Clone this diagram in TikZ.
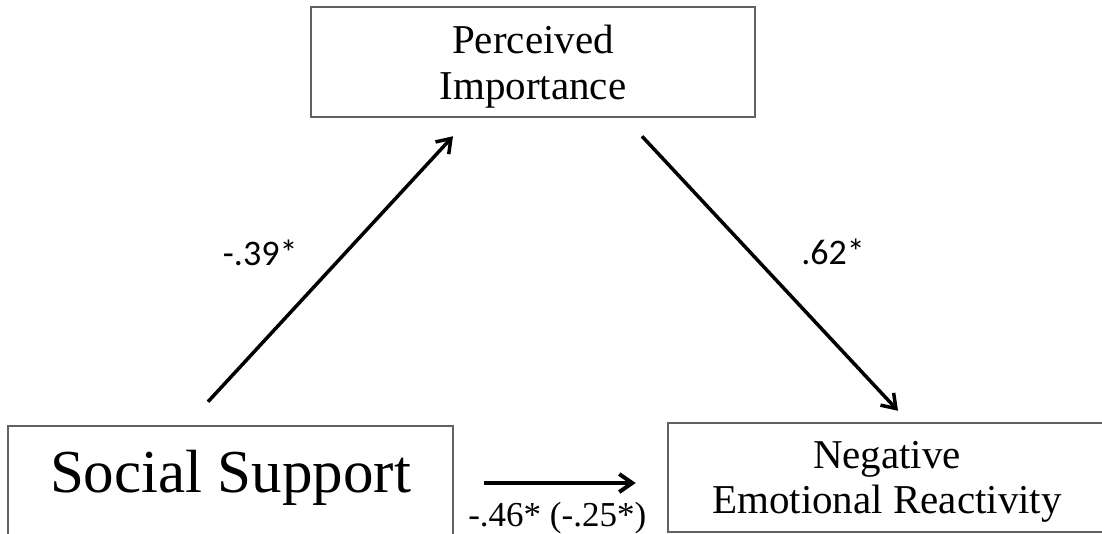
\documentclass[tikz,border=0pt]{standalone}
\usepackage{fontspec}
\setmainfont{Liberation Serif}
\newfontfamily\coefffont{Carlito}
\usetikzlibrary{arrows.meta}

\begin{document}
\begin{tikzpicture}[x=1pt,y=-1pt,
        varbox/.style={draw=black!62,line width=2.5pt,inner sep=0pt,align=center},
        patharrow/.style={line width=3.5pt,-{Straight Barb[length=13pt,width=18pt]}},
        coeff/.style={font=\coefffont\fontsize{36}{40}\selectfont,inner sep=0pt}]
        \useasboundingbox (0,0) rectangle (1102,533);
        % the three variables
        \node[varbox,minimum width=444pt,minimum height=110pt,text depth=0pt,
              font=\fontsize{41}{46}\selectfont] (pi) at (533,62) {Perceived\\Importance};
        \node[varbox,minimum width=445pt,minimum height=120pt,text height=26pt,text depth=14pt,
              font=\fontsize{61}{70}\selectfont] (ss) at (230.5,486) {Social Support};
        \node[varbox,minimum width=438pt,minimum height=109pt,text depth=0pt,
              font=\fontsize{41}{45}\selectfont] (ner) at (887,477.5) {Negative\\Emotional Reactivity};
        % paths
        \draw[patharrow] ([xshift=-22.5pt,yshift=23pt]ss.north) -- ([xshift=-80pt,yshift=-18pt]pi.south)
              node[coeff,pos=.56,left=46pt] {-.39*};
        \draw[patharrow] ([xshift=109pt,yshift=-18pt]pi.south) -- ([xshift=11pt,yshift=11pt]ner.north)
              node[coeff,pos=.42,right=50pt] {.62*};
        \draw[patharrow,line width=4pt,shorten >=31pt] ([xshift=30pt,yshift=3pt]ss.east) coordinate (h0) -- (h0 -| ner.west)
              node[pos=.4,below=17pt,inner sep=0pt,font=\fontsize{35}{40}\selectfont] {-.46* (-.25*)};
\end{tikzpicture}
\end{document}
